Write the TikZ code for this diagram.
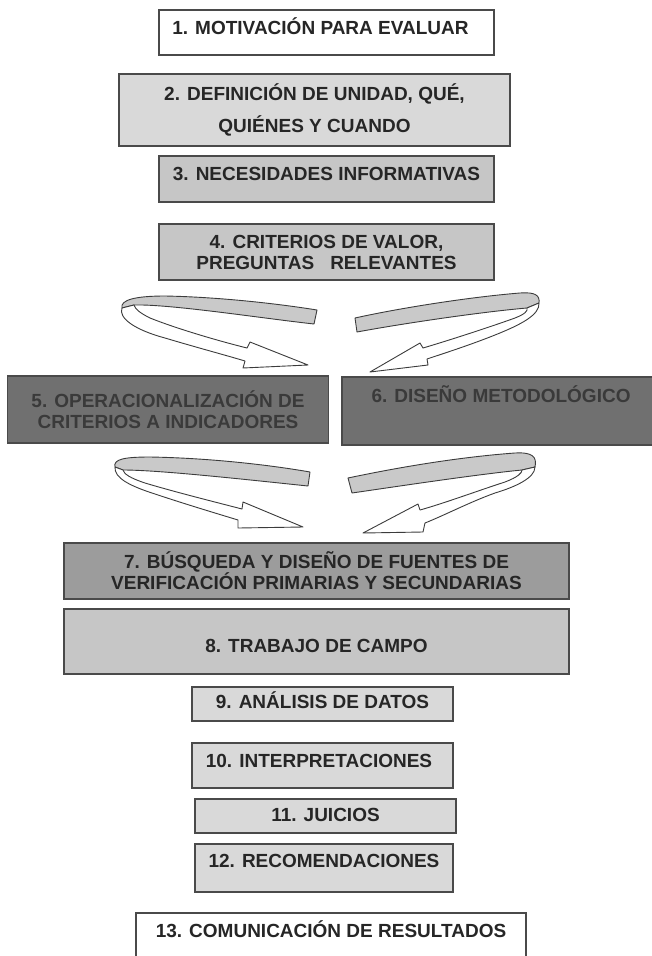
\documentclass[tikz,border=0pt]{standalone}
\usepackage{fontspec}
\setmainfont{Liberation Sans}
\usepackage{xcolor}
\usepackage{tikz}

\definecolor{boxline}{HTML}{4A4A4A}
\definecolor{textgray}{HTML}{262626}
\definecolor{darktext}{HTML}{3A3A3A}
\definecolor{fillA}{HTML}{D9D9D9}
\definecolor{fillB}{HTML}{C6C6C6}
\definecolor{fillC}{HTML}{9C9C9C}
\definecolor{fillD}{HTML}{707070}
\definecolor{ribbongray}{HTML}{C9C9C9}
\definecolor{ribbonline}{HTML}{3C3C3C}

\begin{document}
\begin{tikzpicture}[x=1pt,y=-1pt,
    stepbox/.style={draw=boxline, line width=1.2pt, inner xsep=0pt, inner ysep=0pt,
        font=\bfseries\fontsize{19}{21}\selectfont, text=textgray},
    ribbonback/.style={draw=ribbonline, line width=0.9pt, fill=ribbongray, line join=round},
    ribbonfront/.style={draw=ribbonline, line width=0.9pt, fill=white, line join=round}]
    \useasboundingbox (0,0) rectangle (652,956);
    \clip (0,0) rectangle (652,956);

    \node[stepbox, fill=white, minimum width=335pt, minimum height=45pt, text height=24.3pt, text depth=20.7pt] (s1) at (326.5,32.5) {1. MOTIVACIÓN PARA EVALUAR\hspace*{12pt}};
    \node[stepbox, fill=fillA, minimum width=391pt, minimum height=72pt, align=center] (s2) at (314.5,110) {2. DEFINICIÓN DE UNIDAD, QUÉ,\\[11pt]QUIÉNES Y CUANDO};
    \node[stepbox, fill=fillB, minimum width=335pt, minimum height=46pt, text height=24.8pt, text depth=21.2pt] (s3) at (326.5,179) {3. NECESIDADES INFORMATIVAS};
    \node[stepbox, fill=fillB, minimum width=335pt, minimum height=56pt, align=center] (s4) at (326.5,252) {4. CRITERIOS DE VALOR,\\PREGUNTAS\hspace{16pt}RELEVANTES};
    \node[stepbox, fill=fillD, text=darktext, minimum width=321pt, minimum height=67pt, align=center] (s5) at (168,409.5) {5. OPERACIONALIZACIÓN DE\\CRITERIOS A INDICADORES};
    \node[stepbox, fill=fillD, text=darktext, minimum width=318pt, minimum height=68pt, text height=25.3pt, text depth=42.7pt] (s6) at (501,411) {6. DISEÑO METODOLÓGICO};
    \node[stepbox, fill=fillC, minimum width=505pt, minimum height=56pt, align=center] (s7) at (316.5,571) {7. BÚSQUEDA Y DISEÑO DE FUENTES DE\\VERIFICACIÓN PRIMARIAS Y SECUNDARIAS};
    \node[stepbox, fill=fillB, minimum width=505pt, minimum height=65pt, text height=43.8pt, text depth=21.2pt] (s8) at (316.5,641.5) {8. TRABAJO DE CAMPO};
    \node[stepbox, fill=fillA, minimum width=261pt, minimum height=34pt, text height=21.8pt, text depth=12.2pt] (s9) at (322.5,704) {9. ANÁLISIS DE DATOS};
    \node[stepbox, fill=fillA, minimum width=261pt, minimum height=45pt, text height=24.3pt, text depth=20.7pt] (s10) at (322.5,765.5) {10. INTERPRETACIONES\hspace*{7pt}};
    \node[stepbox, fill=fillA, minimum width=261pt, minimum height=34pt, text height=22.8pt, text depth=11.2pt] (s11) at (325.5,816) {11. JUICIOS};
    \node[stepbox, fill=fillA, minimum width=258pt, minimum height=48pt, text height=23.8pt, text depth=24.2pt] (s12) at (324,868) {12. RECOMENDACIONES};
    \node[stepbox, fill=white, minimum width=390pt, minimum height=62pt, text height=24.1pt, text depth=37.9pt] (s13) at (331,944) {13. COMUNICACIÓN DE RESULTADOS};

    % curved ribbon arrows, 4 -> 5 and 4 -> 6
    \draw[ribbonback] (317,310) -- (314,324) .. controls (260,318) and (170,304) .. (134,305) -- (122,308)
        .. controls (120,300) and (135,296) .. (165,296) .. controls (220,297) and (280,304) .. (317,310) -- cycle;
    \draw[ribbonfront] (122,308) .. controls (118,318) and (135,330) .. (165,338) .. controls (195,347) and (225,355) .. (245,361)
        -- (243,368) -- (308,365) -- (250,342) -- (247,348)
        .. controls (215,340) and (175,328) .. (150,318) .. controls (140,313) and (135,309) .. (134,305) -- cycle;
    \draw[ribbonback] (355,318) -- (357,332) .. controls (400,324) and (480,312) .. (527,308) -- (539,303)
        .. controls (540,295) and (535,292) .. (520,293) .. controls (470,297) and (400,308) .. (355,318) -- cycle;
    \draw[ribbonfront] (539,303) .. controls (540,315) and (520,325) .. (495,335) .. controls (470,345) and (445,353) .. (427,359)
        -- (428,365) -- (370,372) -- (420,343) -- (423,348)
        .. controls (450,340) and (490,327) .. (515,318) .. controls (525,314) and (528,311) .. (527,308) -- cycle;

    % curved ribbon arrows, 5 and 6 -> 7
    \draw[ribbonback] (310,472) -- (308,486) .. controls (250,480) and (160,470) .. (123,470) -- (115,467)
        .. controls (113,459) and (125,457) .. (150,457) .. controls (210,458) and (270,465) .. (310,472) -- cycle;
    \draw[ribbonfront] (115,467) .. controls (114,478) and (130,486) .. (155,494) .. controls (185,504) and (215,513) .. (238,520)
        -- (238,528) -- (303,527) -- (243,502) -- (242,509)
        .. controls (215,502) and (175,492) .. (145,483) .. controls (130,478) and (124,474) .. (123,470) -- cycle;
    \draw[ribbonback] (348,478) -- (352,493) .. controls (400,486) and (480,474) .. (522,470) -- (535,467)
        .. controls (537,457) and (533,452) .. (515,453) .. controls (460,457) and (400,467) .. (348,478) -- cycle;
    \draw[ribbonfront] (535,467) .. controls (535,478) and (515,487) .. (495,493) .. controls (470,502) and (445,515) .. (425,523)
        -- (423,532) -- (363,533) -- (418,504) -- (420,510)
        .. controls (445,503) and (480,490) .. (505,482) .. controls (518,477) and (522,473) .. (522,470) -- cycle;
\end{tikzpicture}
\end{document}
